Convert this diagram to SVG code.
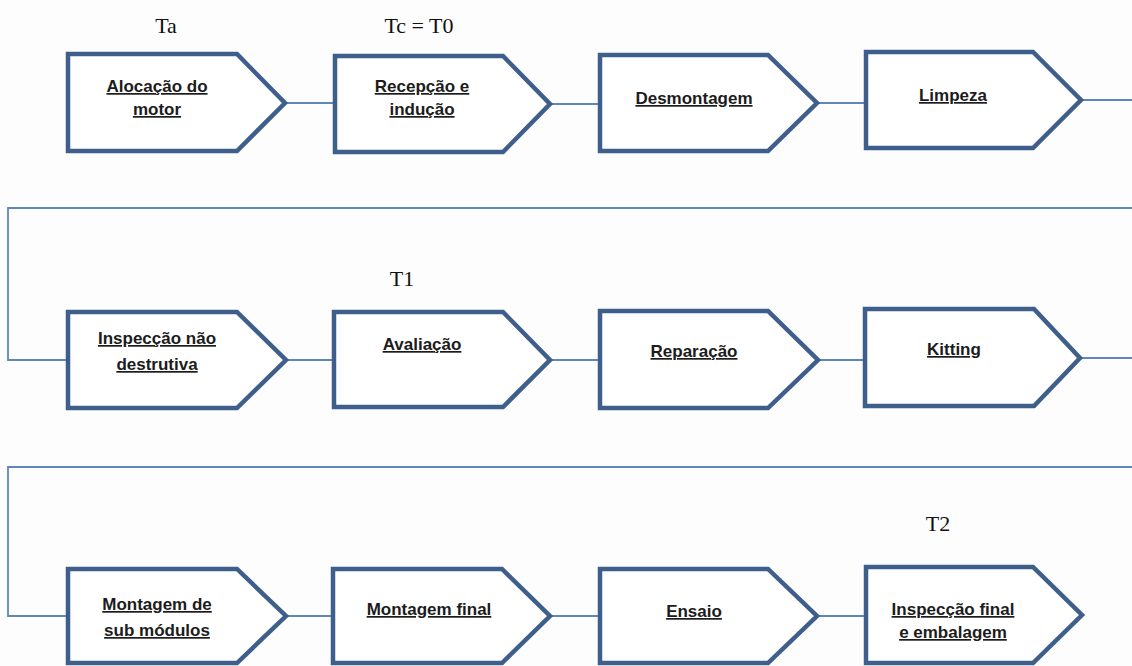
<svg xmlns="http://www.w3.org/2000/svg" width="1132" height="666" viewBox="0 0 1132 666">
<style>
.step{fill:#ffffff;stroke:#3e5f8b;stroke-width:4.5;stroke-linejoin:miter}
.conn{fill:none;stroke:#5f86bb;stroke-width:1.8}
.lbl{font-family:"Liberation Sans",Arial,sans-serif;font-weight:bold;font-size:17px;fill:#1c1c1c;text-anchor:middle;text-decoration:underline}
.tm{font-family:"Liberation Serif","Times New Roman",serif;font-size:22px;fill:#111;text-anchor:middle}
</style>
<rect width="1132" height="666" fill="#fdfdfd"/>
<g id="connectors">
<path class="conn" d="M285,103 H335 M550,104 H600 M817,103 H866 M1081,100 H1132"/>
<path class="conn" d="M1132,208 H8 V360 H68"/>
<path class="conn" d="M286,360 H334 M550,360 H600 M818,360 H865 M1080,358 H1132"/>
<path class="conn" d="M1132,467 H8 V616 H68"/>
<path class="conn" d="M286,616 H333 M550,616 H600 M817,616 H866"/>
</g>
<g id="node-alocacao">
<path class="step" d="M68,54 H237 L285,103 L237,151 H68 Z"/>
<text class="lbl" x="157" y="92">Alocação do</text>
<text class="lbl" x="157" y="115">motor</text>
</g>
<g id="node-recepcao">
<path class="step" d="M335,56 H503 L550,104 L503,152 H335 Z"/>
<text class="lbl" x="422" y="92">Recepção e</text>
<text class="lbl" x="422" y="115">indução</text>
</g>
<g id="node-desmontagem">
<path class="step" d="M600,55 H768 L817,103 L768,151 H600 Z"/>
<text class="lbl" x="694" y="104">Desmontagem</text>
</g>
<g id="node-limpeza">
<path class="step" d="M866,52 H1033 L1081,100 L1033,148 H866 Z"/>
<text class="lbl" x="953" y="101">Limpeza</text>
</g>
<g id="node-inspeccao-nd">
<path class="step" d="M68,312 H237 L286,360 L237,408 H68 Z"/>
<text class="lbl" x="157" y="344">Inspecção não</text>
<text class="lbl" x="157" y="370">destrutiva</text>
</g>
<g id="node-avaliacao">
<path class="step" d="M334,312 H503 L550,360 L503,407 H334 Z"/>
<text class="lbl" x="422" y="350">Avaliação</text>
</g>
<g id="node-reparacao">
<path class="step" d="M600,311 H768 L818,360 L768,408 H600 Z"/>
<text class="lbl" x="694" y="357">Reparação</text>
</g>
<g id="node-kitting">
<path class="step" d="M865,309 H1034 L1080,358 L1034,406 H865 Z"/>
<text class="lbl" x="954" y="355">Kitting</text>
</g>
<g id="node-montagem-sub">
<path class="step" d="M68,569 H237 L286,616 L237,663 H68 Z"/>
<text class="lbl" x="157" y="610">Montagem de</text>
<text class="lbl" x="157" y="636">sub módulos</text>
</g>
<g id="node-montagem-final">
<path class="step" d="M333,569 H502 L550,616 L502,663 H333 Z"/>
<text class="lbl" x="429" y="615">Montagem final</text>
</g>
<g id="node-ensaio">
<path class="step" d="M600,569 H768 L817,616 L768,663 H600 Z"/>
<text class="lbl" x="694" y="617">Ensaio</text>
</g>
<g id="node-inspeccao-final">
<path class="step" d="M866,567 H1033 L1082,615 L1033,663 H866 Z"/>
<text class="lbl" x="953" y="615">Inspecção final</text>
<text class="lbl" x="953" y="638">e embalagem</text>
</g>
<g id="time-labels">
<text class="tm" x="166" y="33">Ta</text>
<text class="tm" x="419" y="33">Tc = T0</text>
<text class="tm" x="402" y="286">T1</text>
<text class="tm" x="938" y="531">T2</text>
</g>
</svg>
